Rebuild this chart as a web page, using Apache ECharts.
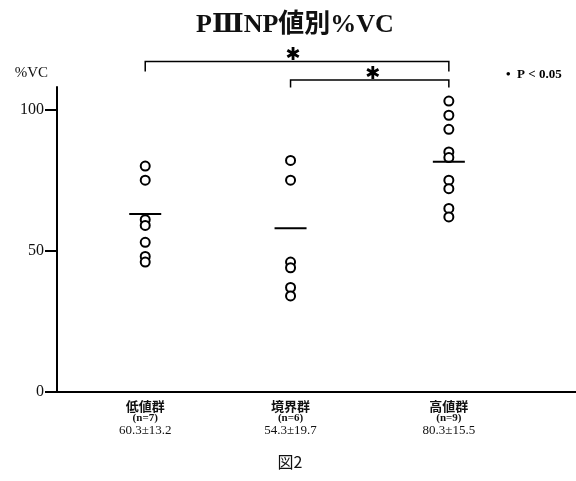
<!DOCTYPE html>
<html>
<head>
<meta charset="utf-8">
<script src="https://cdn.jsdelivr.net/npm/echarts@6/dist/echarts.min.js"></script>
<style>
  body { margin: 0; background: #fff; }
  #main { width: 576px; height: 481px; }
</style>
</head>
<body>
<div id="main"></div>
<script>
// groups and their labels
var groups = ['低値群', '境界群', '高値群'];
var nLabels = ['(n=7)', '(n=6)', '(n=9)'];
var statLabels = ['60.3±13.2', '54.3±19.7', '80.3±15.5'];
var groupX = [1.7, 4.5, 7.55];

// %VC values
var lowVals = [80, 75, 61, 59, 53, 48, 46];
var borderVals = [82, 75, 46, 44, 37, 34];
var highVals = [103, 98, 93, 85, 83, 75, 72, 65, 62];
var meanVals = [63, 58, 81.5];

var yTicks = [0, 50, 100];

var serif = '"Liberation Serif", "DejaVu Serif", "Noto Sans CJK JP", serif';
var jp = '"Noto Sans CJK JP", sans-serif';

function toPoints(x, vals) {
    var out = [];
    for (var i = 0; i < vals.length; i++) out.push([x, vals[i]]);
    return out;
}

var myChart = echarts.init(document.getElementById('main'));

var circleData = toPoints(groupX[0], lowVals)
    .concat(toPoints(groupX[1], borderVals))
    .concat(toPoints(groupX[2], highVals));
var meanData = [];
for (var i = 0; i < meanVals.length; i++) meanData.push([groupX[i], meanVals[i]]);

var option = {
    animation: false,
    backgroundColor: '#fff',
    title: {
        text: 'PⅢNP値別%VC',
        left: 290,
        textAlign: 'center',
        top: 7,
        textStyle: { fontFamily: serif, fontSize: 26, fontWeight: 'bold', color: '#111' }
    },
    grid: { left: 57, right: 0, top: 87, bottom: 89 },
    xAxis: {
        type: 'value',
        min: 0,
        max: 10,
        splitLine: { show: false },
        axisLine: { lineStyle: { color: '#000', width: 2 } },
        axisTick: { show: false },
        axisLabel: {
            customValues: groupX,
            margin: 8,
            formatter: function (v) {
                var k = groupX.indexOf(v);
                if (k < 0) return '';
                return '{g|' + groups[k] + '}\n{n|' + nLabels[k] + '}\n{s|' + statLabels[k] + '}';
            },
            rich: {
                g: { fontFamily: jp, fontSize: 13, fontWeight: 'bold', color: '#111', lineHeight: 13 },
                n: { fontFamily: serif, fontSize: 11, fontWeight: 'bold', color: '#111', lineHeight: 11 },
                s: { fontFamily: serif, fontSize: 13, color: '#111', lineHeight: 14 }
            }
        }
    },
    yAxis: {
        type: 'value',
        min: 0,
        max: 108,
        name: '%VC',
        nameLocation: 'end',
        nameGap: 6,
        nameTextStyle: { fontFamily: serif, fontSize: 15, color: '#111', align: 'right', padding: [0, 9, 0, 0] },
        splitLine: { show: false },
        axisLine: { lineStyle: { color: '#000', width: 2 } },
        axisTick: { customValues: yTicks, length: 12, lineStyle: { color: '#000', width: 2 } },
        axisLabel: {
            customValues: yTicks,
            margin: 13,
            fontFamily: serif,
            fontSize: 16,
            color: '#111'
        }
    },
    series: [
        {
            type: 'scatter',
            data: circleData,
            symbol: 'circle',
            symbolSize: 9,
            itemStyle: { color: '#fff', borderColor: '#000', borderWidth: 2, opacity: 1 }
        },
        {
            type: 'scatter',
            data: meanData,
            symbol: 'rect',
            symbolSize: [32, 2],
            itemStyle: { color: '#000', opacity: 1 },
            z: 3
        }
    ]
};
myChart.setOption(option);

// significance brackets, placed through the axes
function bracket(x1, x2, yTop, yEnd, starOffset) {
    var a = myChart.convertToPixel({ gridIndex: 0 }, [x1, yTop]);
    var b = myChart.convertToPixel({ gridIndex: 0 }, [x2, yTop]);
    var ea = myChart.convertToPixel({ gridIndex: 0 }, [x1, yEnd]);
    var mid = (a[0] + b[0]) / 2 + starOffset;
    return [
        {
            type: 'polyline',
            shape: { points: [[a[0], ea[1]], a, b, [b[0], ea[1]]] },
            style: { stroke: '#000', lineWidth: 1.5, fill: null }
        },
        {
            type: 'text',
            x: mid,
            y: a[1] - 6,
            style: { text: '✱', fontFamily: '"DejaVu Sans", sans-serif', fontSize: 18, fill: '#000', align: 'center', verticalAlign: 'middle' }
        }
    ];
}

var graphics = bracket(groupX[0], groupX[2], 117, 113.5, -4)
    .concat(bracket(groupX[1], groupX[2], 110.5, 107.8, 3));
graphics.push({
    type: 'text',
    x: 506,
    y: 75,
    style: { text: '•  P < 0.05', fontFamily: serif, fontSize: 13, fontWeight: 'bold', fill: '#000', verticalAlign: 'middle' }
});
graphics.push({
    type: 'text',
    x: 290,
    y: 462,
    style: { text: '図2', fontFamily: jp, fontSize: 16, fill: '#111', align: 'center', verticalAlign: 'middle' }
});
myChart.setOption({ graphic: graphics });
</script>
</body>
</html>
